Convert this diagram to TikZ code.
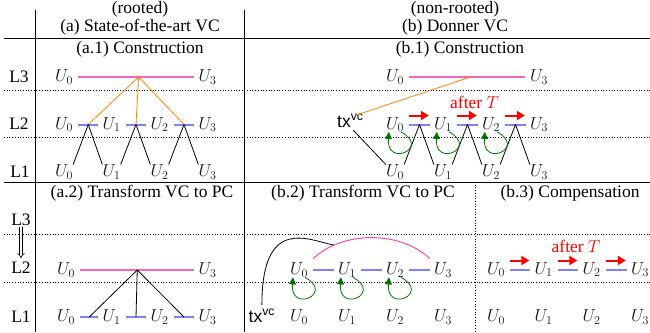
\documentclass[tikz,border=0pt]{standalone}
\usepackage{fontspec}
\setmainfont{Liberation Serif}
\setsansfont{Liberation Sans}
\usetikzlibrary{arrows.meta,calc}
\begin{document}
\begin{tikzpicture}[x=1pt,y=-1pt,
  every node/.style={inner sep=0pt, font=\fontsize{17.5}{21}\selectfont},
  u/.style={text=black!92},
  hd/.style={anchor=base},
  rule/.style={line width=0.8pt},
  dots/.style={dotted, line width=0.7pt},
  pinkbar/.style={draw=magenta!60, line width=2pt},
  pinkarc/.style={draw=magenta!70, line width=1pt},
  bluebar/.style={draw=blue!50, line width=2pt},
  orl/.style={draw=orange, line width=0.8pt},
  blk/.style={draw=black, line width=0.8pt},
  grn/.style={draw=green!45!black, line width=0.8pt, -{Triangle[length=7pt,width=7pt]}},
  redarr/.style={draw=red, line width=2pt, -{Triangle[length=8pt,width=9pt]}},
  dbl/.style={double, double distance=2pt, line width=0.6pt, -{Implies}},
]
\useasboundingbox (0,0) rectangle (650,332);

% frame
\draw[rule] (35,10) -- (35,332);
\draw[rule] (244.5,10) -- (244.5,332);
\draw[rule] (4,38.5) -- (650,38.5);
\draw[rule] (4,182) -- (650,182);
\draw[dots] (4,90) -- (650,90);
\draw[dots] (4,137) -- (650,137);
\draw[dots] (4,234) -- (650,234);
\draw[dots] (4,282) -- (650,282);
\draw[dots] (475,182) -- (475,332);

% headers
\node[hd] (hr) at (140,13) {(rooted)};
\node[hd] (ha) at (140,31) {(a) State-of-the-art VC};
\node[hd] (hnr) at (455,13) {(non-rooted)};
\node[hd] (hb) at (455,31) {(b) Donner VC};
\node[hd] (ha1) at (140,53) {(a.1) Construction};
\node[hd] (hb1) at (460,53) {(b.1) Construction};
\node[hd] (ha2) at (142,197) {(a.2) Transform VC to PC};
\node[hd] (hb2) at (363,197) {(b.2) Transform VC to PC};
\node[hd] (hb3) at (570,197) {(b.3) Compensation};

% level labels
\node[hd] (tl3) at (19,82) {L3};
\node[hd] (tl2) at (19,129) {L2};
\node[hd] (tl1) at (20,177) {L1};
\node[hd] (bl3) at (21,225) {L3};
\node[hd] (bl2) at (21,273) {L2};
\node[hd] (bl1) at (21,322) {L1};
\draw[dbl] ([yshift=-2]bl3.south) -- ([yshift=3]bl2.north);

% ---------- (a.1) ----------
\node[u] (a1t0) at (64,77) {$U_0$};
\node[u] (a1t3) at (207.5,77) {$U_3$};
\foreach \i/\x in {0/64,1/111.5,2/159.5,3/207.5}{
  \node[u] (a1m\i) at (\x,124.5) {$U_\i$};
  \node[u] (a1b\i) at (\x,172) {$U_\i$};
}
\draw[pinkbar] ([xshift=5]a1t0.east) -- ([xshift=-4]a1t3.west) coordinate[pos=0.52] (a1apex);
\draw[bluebar] ([xshift=5]a1m0.east) -- ([xshift=-4]a1m1.west) coordinate[midway] (a1s1);
\draw[bluebar] ([xshift=5]a1m1.east) -- ([xshift=-4]a1m2.west) coordinate[midway] (a1s2);
\draw[bluebar] ([xshift=5]a1m2.east) -- ([xshift=-4]a1m3.west) coordinate[midway] (a1s3);
\draw[orl] (a1apex) -- (a1s1);
\draw[orl] (a1apex) -- (a1s2);
\draw[orl] (a1apex) -- (a1s3);
\draw[blk] (a1s1) -- (a1b0.north east);
\draw[blk] (a1s1) -- (a1b1.north west);
\draw[blk] (a1s2) -- (a1b1.north east);
\draw[blk] (a1s2) -- (a1b2.north west);
\draw[blk] (a1s3) -- (a1b2.north east);
\draw[blk] (a1s3) -- (a1b3.north west);

% ---------- (b.1) ----------
\node[u] (b1t0) at (395,77) {$U_0$};
\node[u] (b1t3) at (539,77) {$U_3$};
\foreach \i/\x in {0/395,1/443,2/491,3/539}{
  \node[u] (b1m\i) at (\x,124.5) {$U_\i$};
  \node[u] (b1b\i) at (\x,172) {$U_\i$};
}
\node[anchor=base west] (tx1) at (337,127) {\sffamily tx\textsuperscript{vc}};
\draw[pinkbar] ([xshift=5]b1t0.east) -- ([xshift=-5]b1t3.west) coordinate[pos=0.53] (b1o);
\draw[orl] (b1o) -- ([xshift=5,yshift=-1.5]tx1.north);
\draw[blk] ([xshift=3,yshift=-3]tx1.south) -- (b1b0.north west);
\foreach \i/\j in {0/1,1/2,2/3}{
  \draw[bluebar] ([xshift=5]b1m\i.east) coordinate (b1a\j) -- ([xshift=-4]b1m\j.west) coordinate (b1e\j) coordinate[midway] (b1s\j);
  \draw[redarr] ([yshift=9]b1a\j) -- ([xshift=-1,yshift=9]b1e\j);
  \draw[blk] (b1s\j) -- (b1b\i.north east);
  \draw[blk] (b1s\j) -- (b1b\j.north west);
  \draw[grn] ([xshift=6]b1m\i.south) .. controls +(30,16) and +(-3,36) .. ([xshift=-6]b1m\i.south);
}
\node[anchor=base, text=red] (afT1) at (474.5,108) {after $T$};

% ---------- (a.2) ----------
\node[u] (a2m0) at (66,270) {$U_0$};
\node[u] (a2m3) at (207.5,270) {$U_3$};
\foreach \i/\x in {0/66,1/111.5,2/159.5,3/207.5}{
  \node[u] (a2b\i) at (\x,317) {$U_\i$};
}
\draw[pinkbar] ([xshift=5]a2m0.east) -- ([xshift=-4]a2m3.west) coordinate[pos=0.5] (a2apex);
\draw[bluebar] ([xshift=5]a2b0.east) -- ([xshift=-4]a2b1.west) coordinate[midway] (a2s1);
\draw[bluebar] ([xshift=5]a2b1.east) -- ([xshift=-4]a2b2.west) coordinate[midway] (a2s2);
\draw[bluebar] ([xshift=5]a2b2.east) -- ([xshift=-4]a2b3.west) coordinate[midway] (a2s3);
\draw[blk] (a2apex) -- (a2s1);
\draw[blk] (a2apex) -- (a2s2);
\draw[blk] (a2apex) -- (a2s3);

% ---------- (b.2) ----------
\foreach \i/\x in {0/299,1/347,2/395,3/443}{
  \node[u] (b2m\i) at (\x,270) {$U_\i$};
  \node[u] (b2b\i) at (\x,317) {$U_\i$};
}
\node[anchor=base west] (tx2) at (248.5,322) {\sffamily tx\textsuperscript{vc}};
\foreach \i/\j in {0/1,1/2,2/3}{
  \draw[bluebar] ([xshift=5]b2m\i.east) -- ([xshift=-4]b2m\j.west);
  \draw[grn] ([xshift=6]b2m\i.south) .. controls +(30,16) and +(-3,36) .. ([xshift=-6]b2m\i.south);
}
\draw[pinkarc] ([xshift=5,yshift=4]b2m0.north east) .. controls +(30,-28) and +(-30,-28) .. ([xshift=-4,yshift=4]b2m3.north west) coordinate[pos=0.2] (b2join);
\draw[blk] ([yshift=4]tx2.north) .. controls +(0,-90) and +(-25,-5) .. (b2join);

% ---------- (b.3) ----------
\foreach \i/\x in {0/496,1/543.5,2/591.5,3/640}{
  \node[u] (b3m\i) at (\x,269.5) {$U_\i$};
  \node[u] (b3b\i) at (\x,317) {$U_\i$};
}
\foreach \i/\j in {0/1,1/2,2/3}{
  \draw[bluebar] ([xshift=5]b3m\i.east) coordinate (b3a\j) -- ([xshift=-4]b3m\j.west) coordinate (b3e\j);
  \draw[redarr] ([yshift=9]b3a\j) -- ([xshift=-1,yshift=9]b3e\j);
}
\node[anchor=base, text=red] (afT3) at (576,252) {after $T$};
\end{tikzpicture}
\end{document}
